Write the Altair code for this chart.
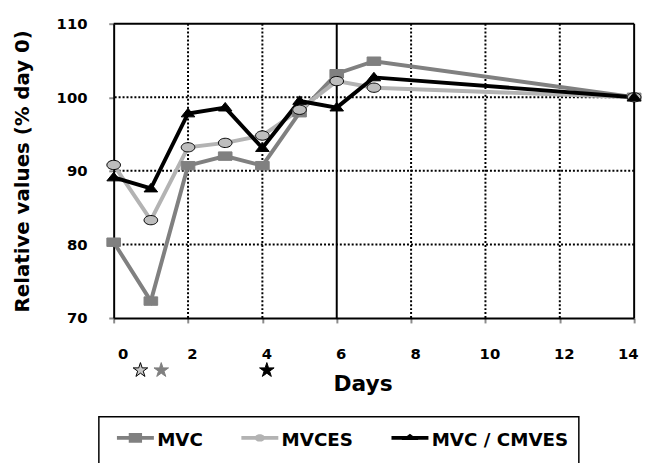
import altair as alt
import pandas as pd

# ---- data ----
days = [0, 1, 2, 3, 4, 5, 6, 7, 14]
mvc = [80.3, 72.3, 90.7, 92.0, 90.7, 97.9, 103.2, 104.9, 100.0]
mvces = [90.8, 83.3, 93.2, 93.8, 94.8, 98.3, 102.2, 101.3, 100.0]
mvc_cmves = [89.1, 87.6, 97.8, 98.6, 93.1, 99.5, 98.6, 102.7, 100.0]

series_names = ["MVC", "MVCES", "MVC / CMVES"]
line_colors = ["#808080", "#b3b3b3", "#000000"]
fill_colors = ["#808080", "#bdbdbd", "#000000"]
edge_colors = ["#808080", "#000000", "#000000"]

# significance stars below the x axis
star_days = [0.72, 1.28, 4.12]
star_level = [62.9, 62.9, 62.9]
star_fill = ["#c8c8c8", "#808080", "#000000"]
star_edge = ["#000000", "#808080", "#000000"]

# grid lines
grid_x_dotted = [2, 4, 8, 10, 12]
grid_x_solid = [6, 14]
grid_y_dotted = [80, 90, 100]
grid_y_solid = [110]

x_ticks = list(range(0, 15))
y_ticks = [70, 75, 80, 85, 90, 95, 100, 105, 110]

# ---- tables ----
rows = []
for name, vals in zip(series_names, [mvc, mvces, mvc_cmves]):
    for d, v in zip(days, vals):
        rows.append({"day": d, "value": v, "series": name})
df = pd.DataFrame(rows)
stars = pd.DataFrame({"day": star_days, "value": star_level, "fill": star_fill, "edge": star_edge})
gx_dot = pd.DataFrame({"day": grid_x_dotted})
gx_sol = pd.DataFrame({"day": grid_x_solid})
gy_dot = pd.DataFrame({"value": grid_y_dotted})
gy_sol = pd.DataFrame({"value": grid_y_solid})

FONT = "DejaVu Sans"

xscale = alt.Scale(domain=[0, 14], nice=False, zero=False)
yscale = alt.Scale(domain=[70, 110], nice=False, zero=False)

x_axis = alt.Axis(
    values=x_ticks,
    labelExpr="datum.value % 2 == 0 ? datum.label : ''",
    grid=False, domainColor="black", domainWidth=2,
    tickColor="#8c8c8c", tickWidth=2, tickSize=5,
    labelFont=FONT, labelFontSize=15, labelFontWeight="bold", labelColor="black",
    labelPadding=24, labelOffset=4,
    title="Days", titleFont=FONT, titleFontSize=22, titleFontWeight="bold",
    titleColor="black", titlePadding=12, titleX=252,
)
y_axis = alt.Axis(
    values=y_ticks,
    labelExpr="datum.value % 10 == 0 ? datum.label : ''",
    grid=False, domainColor="black", domainWidth=2,
    tickColor="#8c8c8c", tickWidth=2, tickSize=5,
    labelFont=FONT, labelFontSize=15, labelFontWeight="bold", labelColor="black",
    labelPadding=22,
    title="Relative values  (% day 0)", titleFont=FONT, titleFontSize=20,
    titleFontWeight="bold", titleColor="black", titlePadding=24,
)

X = alt.X("day:Q", scale=xscale, axis=x_axis)
Y = alt.Y("value:Q", scale=yscale, axis=y_axis)

rule_dotted_v = alt.Chart(gx_dot).mark_rule(color="black", strokeWidth=2, strokeDash=[2, 2]).encode(
    x=alt.X("day:Q", scale=xscale))
rule_solid_v = alt.Chart(gx_sol).mark_rule(color="black", strokeWidth=2).encode(
    x=alt.X("day:Q", scale=xscale))
rule_dotted_h = alt.Chart(gy_dot).mark_rule(color="black", strokeWidth=2, strokeDash=[2, 2]).encode(
    y=alt.Y("value:Q", scale=yscale))
rule_solid_h = alt.Chart(gy_sol).mark_rule(color="black", strokeWidth=2).encode(
    y=alt.Y("value:Q", scale=yscale))

lines = alt.Chart(df).mark_line(strokeWidth=4).encode(
    x=X, y=Y,
    color=alt.Color("series:N", scale=alt.Scale(domain=series_names, range=line_colors), legend=None),
    order=alt.Order("day:Q"),
)

# marker shapes (unit paths)
rect_path = "M-1,-0.62H1V0.62H-1Z"
ell_path = "M-1,0 A1,0.68 0 1,1 1,0 A1,0.68 0 1,1 -1,0 Z"
tri_path = "M-1,0.5 L0,-0.75 L1,0.5 Z"

points = alt.Chart(df).mark_point(filled=True, size=190, strokeWidth=1, opacity=1).encode(
    x=X, y=Y,
    fill=alt.Fill("series:N", scale=alt.Scale(domain=series_names, range=fill_colors), legend=None),
    stroke=alt.Stroke("series:N", scale=alt.Scale(domain=series_names, range=edge_colors), legend=None),
    shape=alt.Shape("series:N", scale=alt.Scale(domain=series_names, range=[rect_path, ell_path, tri_path]), legend=None),
)

# legend symbols: line + marker (drawn slightly above the entry centre)
leg_rect = "M-1,-0.52H1V-0.32H-1Z M-0.36,-0.68H0.36V-0.16H-0.36Z"
leg_ell = "M-1,-0.52H1V-0.32H-1Z M-0.28,-0.42 A0.28,0.2 0 1,1 0.28,-0.42 A0.28,0.2 0 1,1 -0.28,-0.42 Z"
leg_tri = "M-1,-0.52H1V-0.32H-1Z M-0.45,-0.3 L0,-0.64 L0.45,-0.3 Z"

legend_def = alt.Legend(
    title=" ", titleOrient="bottom", titleFontSize=22, titlePadding=4,
    orient="none", legendX=-15, legendY=398, direction="horizontal", columns=3,
    strokeColor="black", fillColor="white", padding=10, symbolOffset=8,
    symbolSize=1400, symbolStrokeWidth=0, labelOffset=3, columnPadding=30,
    labelFont=FONT, labelFontSize=18.5, labelFontWeight="bold", labelColor="black",
    labelBaseline="alphabetic", symbolOpacity=1,
)

legend_layer = alt.Chart(df).mark_point(filled=True, opacity=0).encode(
    x=X, y=Y,
    color=alt.Color("series:N", scale=alt.Scale(domain=series_names, range=line_colors), legend=legend_def),
    shape=alt.Shape("series:N", scale=alt.Scale(domain=series_names, range=[leg_rect, leg_ell, leg_tri]), legend=legend_def),
)

star_path = ("M0,-1 L0.225,-0.309 L0.951,-0.309 L0.363,0.118 L0.588,0.809 L0,0.382 "
             "L-0.588,0.809 L-0.363,0.118 L-0.951,-0.309 L-0.225,-0.309 Z")
star_layer = alt.Chart(stars).mark_point(filled=True, size=240, strokeWidth=1, clip=False, opacity=1).encode(
    x=alt.X("day:Q", scale=xscale),
    y=alt.Y("value:Q", scale=yscale),
    fill=alt.Fill("fill:N", scale=None),
    stroke=alt.Stroke("edge:N", scale=None),
    shape=alt.value(star_path),
)

chart = alt.layer(
    rule_dotted_v, rule_dotted_h, rule_solid_v, rule_solid_h,
    lines, points, legend_layer, star_layer,
).resolve_scale(
    color="independent", shape="independent", fill="independent", stroke="independent"
).properties(
    width=527, height=298,
    background="white",
    autosize=alt.AutoSizeParams(type="none"),
    padding={"left": 107, "top": 13, "right": 12, "bottom": 150},
).configure_view(stroke=None).configure_legend(strokeWidth=1.5)

chart.save("out.html", embed_options={"renderer": "svg", "actions": False})
